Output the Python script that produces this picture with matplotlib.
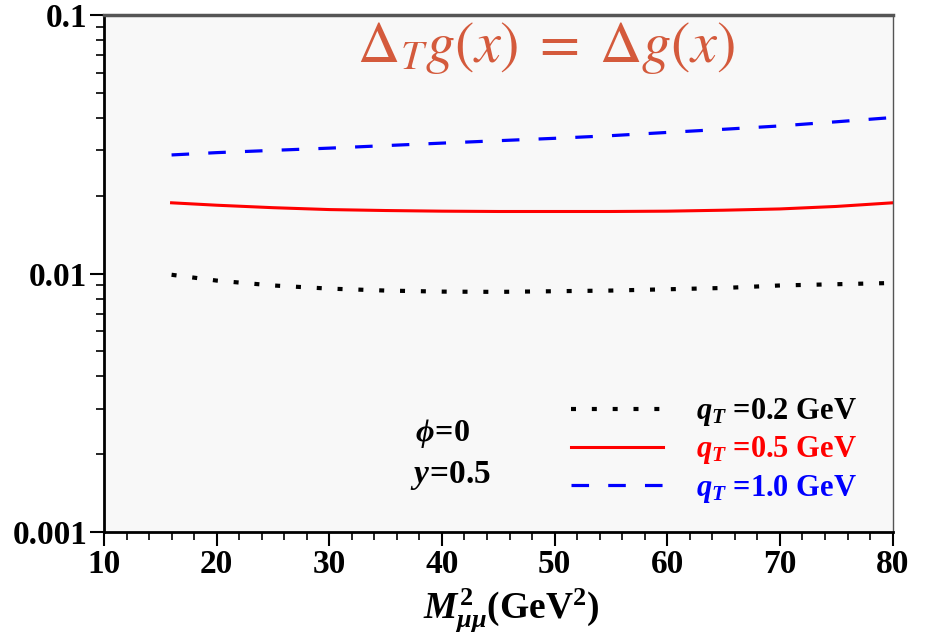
import numpy as np
import matplotlib
matplotlib.use("Agg")
import matplotlib.pyplot as plt
from matplotlib.ticker import MultipleLocator, LogLocator, FixedLocator, NullFormatter
from matplotlib.font_manager import FontProperties

plt.rcParams['font.family'] = ['Liberation Serif', 'DejaVu Serif']
plt.rcParams['font.weight'] = 'normal'
plt.rcParams['mathtext.fontset'] = 'custom'
plt.rcParams['mathtext.it'] = 'Liberation Serif:italic:bold'
plt.rcParams['mathtext.rm'] = 'Liberation Serif:bold'
plt.rcParams['mathtext.bf'] = 'Liberation Serif:bold'

# data
M2 = [16, 20, 25, 30, 35, 40, 45, 50, 55, 60, 65, 70, 75, 80]
qt02 = [0.0099, 0.0094, 0.0090, 0.00875, 0.0086, 0.00852, 0.0085, 0.00855, 0.0086, 0.0087, 0.0088, 0.0090, 0.0091, 0.0092]
qt05 = [0.0188, 0.0184, 0.0180, 0.0177, 0.01755, 0.01745, 0.0174, 0.0174, 0.0174, 0.01745, 0.0176, 0.0178, 0.0182, 0.0188]
qt10 = [0.0288, 0.0294, 0.0300, 0.0306, 0.0313, 0.0320, 0.0327, 0.0334, 0.0342, 0.0352, 0.0362, 0.0373, 0.0387, 0.0402]
labels = [r'$q_T$ =0.2 GeV', r'$q_T$ =0.5 GeV', r'$q_T$ =1.0 GeV']
colors = ['black', 'red', 'blue']
styles = [(0, (1.2, 3.8)), '-', (0, (5.5, 6.0))]
widths = [3.0, 2.2, 2.3]

fig = plt.figure(figsize=(9.3, 6.36), dpi=100)
ax = fig.add_axes([0.1118, 0.1635, 0.848, 0.8125])
ax.set_facecolor('#f8f8f8')

for ys, c, ls, lw, lab in zip([qt02, qt05, qt10], colors, styles, widths, labels):
    ax.plot(M2, ys, color=c, linestyle=ls, lw=lw, label=lab)

ax.set_yscale('log')
ax.set_xlim(10, 80)
ax.set_ylim(0.001, 0.1)
ax.xaxis.set_major_locator(MultipleLocator(10))
ax.xaxis.set_minor_locator(MultipleLocator(2))
ax.yaxis.set_major_locator(FixedLocator([0.001, 0.01, 0.1]))
ax.yaxis.set_minor_locator(LogLocator(base=10, subs=np.arange(2, 10)))
ax.yaxis.set_minor_formatter(NullFormatter())
ax.set_yticklabels(['0.001', '0.01', '0.1'])
ax.tick_params(axis='both', which='major', direction='out', length=10, width=1.5, labelsize=24, pad=2)
ax.tick_params(axis='both', which='minor', direction='out', length=6, width=1.2)
ax.tick_params(top=False, right=False, which='both')
for lbl in ax.get_xticklabels() + ax.get_yticklabels():
    lbl.set_fontweight('bold')
for sp in ['left', 'bottom']:
    ax.spines[sp].set_linewidth(2)
    ax.spines[sp].set_color('black')
ax.spines['top'].set_linewidth(2.5)
ax.spines['top'].set_color('#555555')
ax.spines['right'].set_linewidth(1)
ax.spines['right'].set_color('#555555')

ax.set_xlabel(r'$M^2_{\mu\mu}$(GeV$^2$)', fontsize=27, labelpad=2, fontweight='bold')
ax.xaxis.set_label_coords(0.517, -0.105)

fp_title = FontProperties(family='STIXGeneral', size=42, weight='normal', math_fontfamily='stix')
ax.text(0.561, 0.936, r'$\Delta_T g(x)\;=\;\Delta g(x)$', transform=ax.transAxes,
        ha='center', va='center', color='#d45a3c', fontproperties=fp_title)

ax.text(0.395, 0.19, r'$\phi\!=\!0$', transform=ax.transAxes, fontsize=23, ha='left', va='center')
ax.text(0.388, 0.11, r'$y\!=\!0.5$', transform=ax.transAxes, fontsize=24, ha='left', va='center')

leg = ax.legend(loc='lower right', bbox_to_anchor=(0.99, 0.0), frameon=False,
                prop=FontProperties(family='Liberation Serif', weight='bold', size=22),
                handlelength=3.0, handletextpad=1.1, labelspacing=0.2,
                labelcolor='linecolor')

fig.savefig('out.png', dpi=100)
